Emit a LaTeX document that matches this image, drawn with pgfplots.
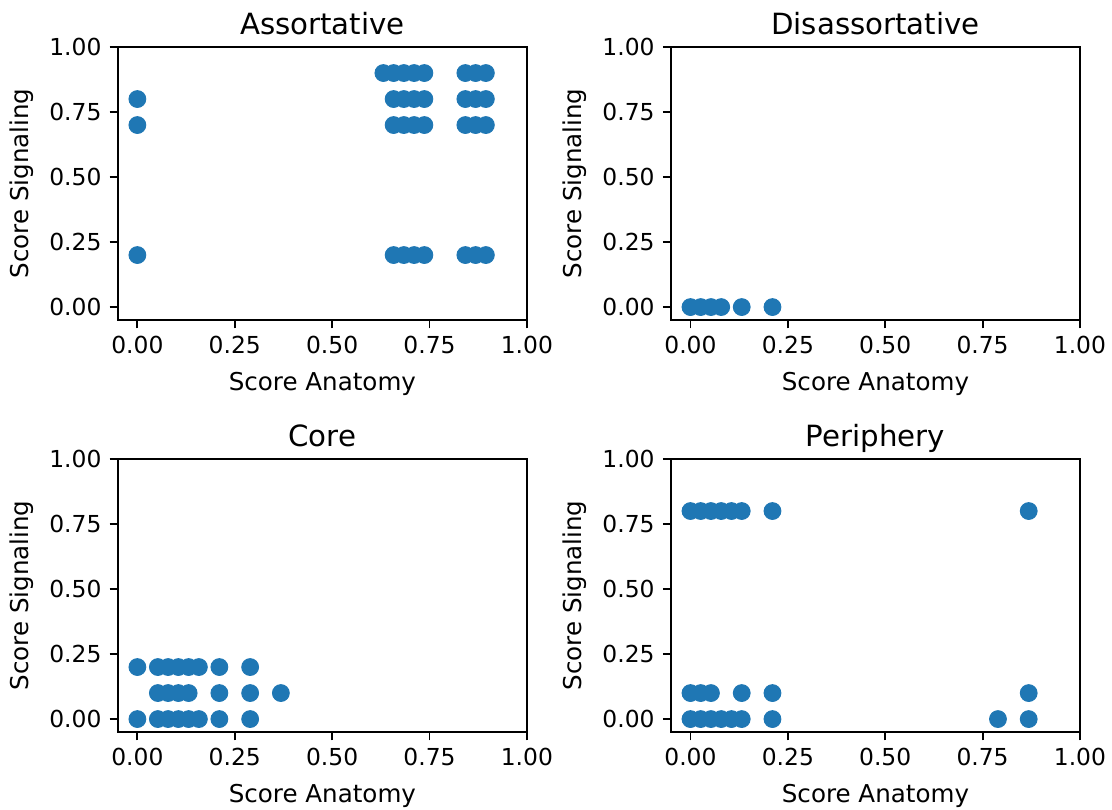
\documentclass[border=0pt]{standalone}
\usepackage{fontspec}
\setmainfont{DejaVu Sans}
\usepackage{pgfplots}
\pgfplotsset{compat=1.18}
\definecolor{mplblue}{HTML}{1F77B4}
\pgfplotsset{
  every axis title/.style={at={(0.5,1)}, anchor=base, yshift=5.3pt,
    font=\fontsize{12.5}{15}\selectfont},
  panel/.style={
    scale only axis, width=174.8pt, height=116.7pt,
    xmin=-0.05, xmax=1, ymin=-0.05, ymax=1,
    xtick={0,0.25,0.5,0.75,1}, ytick={0,0.25,0.5,0.75,1},
    tick pos=left, tick align=outside,
    major tick length=3.5pt,
    every tick/.style={black, line width=0.8pt},
    axis line style={line width=0.8pt},
    ticklabel style={font=\fontsize{10}{12}\selectfont},
    /pgf/number format/fixed,
    /pgf/number format/fixed zerofill,
    /pgf/number format/precision=2,
    /pgf/number format/assume math mode=true,
    xlabel={Score Anatomy}, ylabel={Score Signaling},
    label style={font=\fontsize{10.5}{12.5}\selectfont},
    xlabel style={yshift=-1pt},
  },
  dots/.style={only marks, mark=*, mark size=3.6pt, color=mplblue,
    mark options={draw=mplblue, fill=mplblue}},
}
\begin{document}
\begin{tikzpicture}
\path[use as bounding box] (-50.4pt,136.8pt) rectangle (424.9pt,-209.0pt);

% Assortative
\begin{axis}[panel, at={(0pt,0pt)}, anchor=south west, title={Assortative}]
\addplot[dots] coordinates {
 (0,0.8) (0,0.7) (0,0.2)
 (0.6316,0.9) (0.6579,0.9) (0.6842,0.9) (0.7105,0.9) (0.7368,0.9)
 (0.8421,0.9) (0.8684,0.9) (0.8947,0.9)
 (0.6579,0.8) (0.6842,0.8) (0.7105,0.8) (0.7368,0.8)
 (0.8421,0.8) (0.8684,0.8) (0.8947,0.8)
 (0.6579,0.7) (0.6842,0.7) (0.7105,0.7) (0.7368,0.7)
 (0.8421,0.7) (0.8684,0.7) (0.8947,0.7)
 (0.6579,0.2) (0.6842,0.2) (0.7105,0.2) (0.7368,0.2)
 (0.8421,0.2) (0.8684,0.2) (0.8947,0.2)
};
\end{axis}

% Disassortative
\begin{axis}[panel, at={(236.4pt,0pt)}, anchor=south west, title={Disassortative}]
\addplot[dots] coordinates {
 (0,0) (0.0263,0) (0.0526,0) (0.0789,0) (0.1316,0) (0.2105,0)
};
\end{axis}

% Core
\begin{axis}[panel, at={(0pt,-176.1pt)}, anchor=south west, title={Core}]
\addplot[dots] coordinates {
 (0,0.2) (0.0526,0.2) (0.0789,0.2) (0.1053,0.2) (0.1316,0.2) (0.1579,0.2)
 (0.2105,0.2) (0.2895,0.2)
 (0.0526,0.1) (0.0789,0.1) (0.1053,0.1) (0.1316,0.1)
 (0.2105,0.1) (0.2895,0.1) (0.3684,0.1)
 (0,0) (0.0526,0) (0.0789,0) (0.1053,0) (0.1316,0) (0.1579,0)
 (0.2105,0) (0.2895,0)
};
\end{axis}

% Periphery
\begin{axis}[panel, at={(236.4pt,-176.1pt)}, anchor=south west, title={Periphery}]
\addplot[dots] coordinates {
 (0,0.8) (0.0263,0.8) (0.0526,0.8) (0.0789,0.8) (0.1053,0.8) (0.1316,0.8)
 (0.2105,0.8) (0.8684,0.8)
 (0,0.1) (0.0263,0.1) (0.0526,0.1) (0.1316,0.1) (0.2105,0.1) (0.8684,0.1)
 (0,0) (0.0263,0) (0.0526,0) (0.0789,0) (0.1053,0) (0.1316,0)
 (0.2105,0) (0.7895,0) (0.8684,0)
};
\end{axis}
\end{tikzpicture}
\end{document}
